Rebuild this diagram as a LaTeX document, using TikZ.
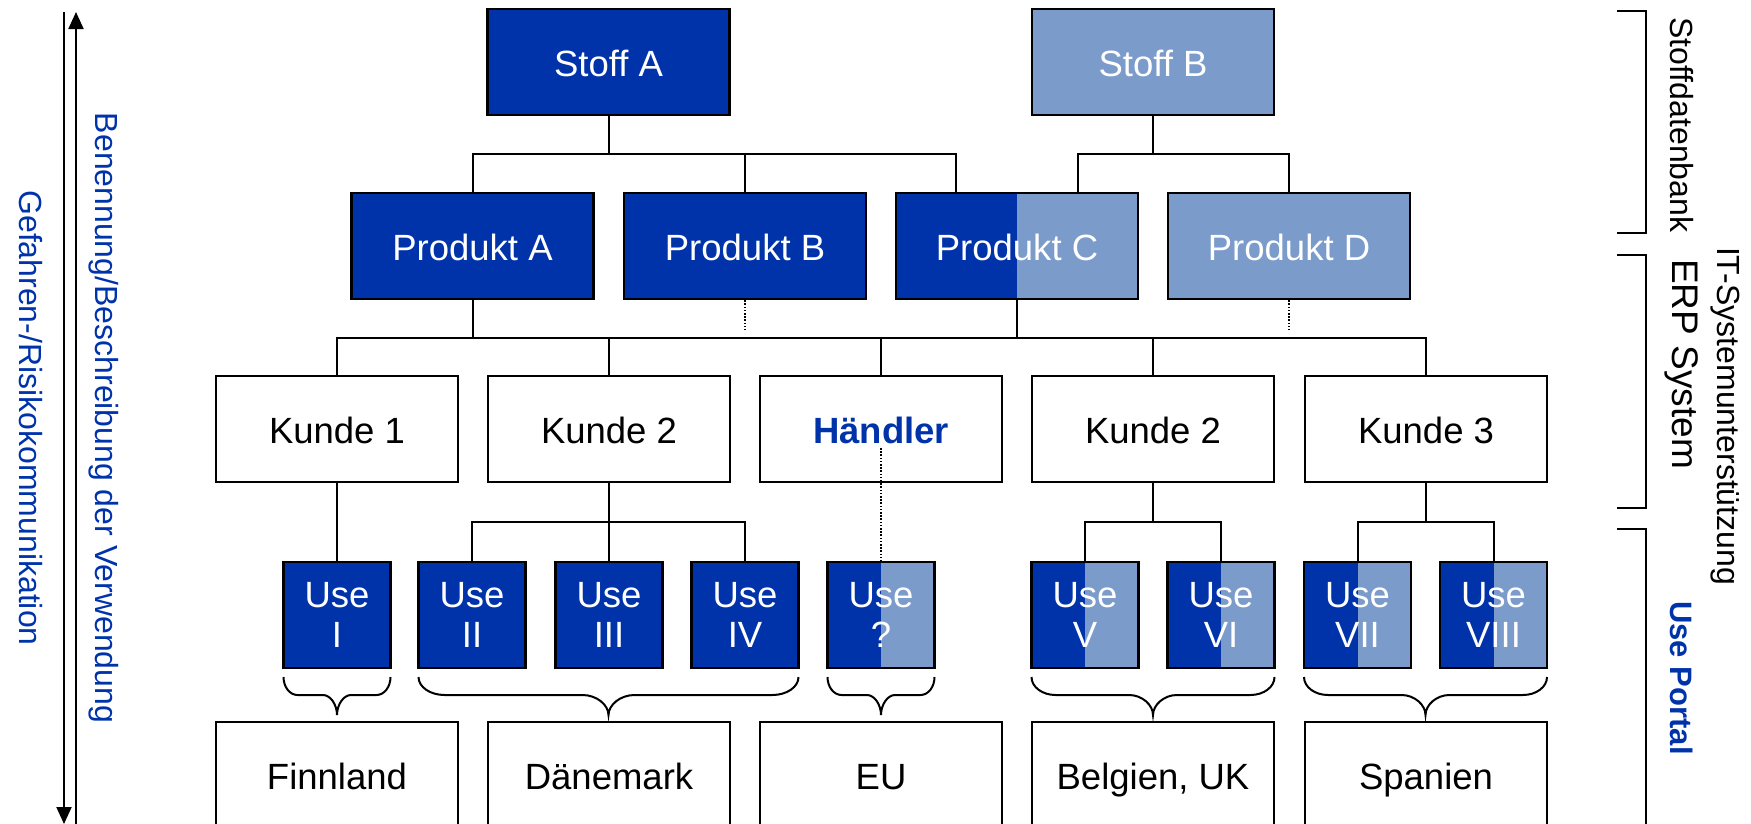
\documentclass[tikz,border=0pt]{standalone}
\usepackage{fontspec}
\setmainfont{Liberation Sans}
\usetikzlibrary{calc,arrows.meta}
\definecolor{dkb}{RGB}{0,51,170}
\definecolor{ltb}{RGB}{123,155,203}
\tikzset{
 bx/.style={draw=black, line width=2.3bp, minimum width=242bp, minimum height=106bp, inner sep=0pt, font=\fontsize{36.5bp}{40bp}\selectfont},
 one/.style={text height=30bp, text depth=2bp},
 dkbox/.style={bx, fill=dkb, text=white},
 ltbox/.style={bx, fill=ltb, text=white},
 halfbox/.style={bx, text=white, path picture={
   \fill[dkb] (path picture bounding box.south west) rectangle (path picture bounding box.north);
   \fill[ltb] (path picture bounding box.north) rectangle (path picture bounding box.south east);}},
 wbox/.style={bx, fill=white, text=black, one},
 ubox/.style={minimum width=107bp, align=center},
 ln/.style={line width=2bp},
 dln/.style={line width=1.6bp, dash pattern=on 1.6bp off 1.6bp},
 brc/.style={line width=2bp},
 side/.style={rotate=-90, inner sep=0pt, font=\fontsize{32bp}{36bp}\selectfont},
 arr/.style={ln, -{Triangle[length=17bp,width=15bp]}},
}
\newcommand\mybrace[3]{%
 \draw[brc] (#1,677) .. controls (#1,687) and ({#1+0.45*#3},695) .. ({#1+#3},695)
   -- ({(#1+#2)/2-#3},695) .. controls ({(#1+#2)/2-0.45*#3},695) and ({(#1+#2)/2},705) .. ({(#1+#2)/2},715)
   .. controls ({(#1+#2)/2},705) and ({(#1+#2)/2+0.45*#3},695) .. ({(#1+#2)/2+#3},695)
   -- ({#2-#3},695) .. controls ({#2-0.45*#3},695) and (#2,687) .. (#2,677);}
\begin{document}
\begin{tikzpicture}[x=1bp,y=-1bp]
\useasboundingbox (0,0) rectangle (1751,824);
% level 1
\node[dkbox,one] (sa) at (608.5,62) {Stoff A};
\node[ltbox,one] (sb) at (1153,62) {Stoff B};
% level 2
\node[dkbox,one] (pa) at (472.5,246) {Produkt A};
\node[dkbox,one] (pb) at (745,246) {Produkt B};
\node[halfbox,one] (pc) at (1017,246) {Produkt C};
\node[ltbox,one] (pd) at (1289,246) {Produkt D};
% level 3
\node[wbox] (k1) at (337,429) {Kunde 1};
\node[wbox] (k2) at (609,429) {Kunde 2};
\node[wbox, text=dkb, font=\fontsize{36.5bp}{40bp}\selectfont\bfseries] (h) at (881,429) {Händler};
\node[wbox] (k4) at (1153,429) {Kunde 2};
\node[wbox] (k5) at (1426,429) {Kunde 3};
% level 4
\node[dkbox,ubox] (u1) at (337,615) {Use\\I};
\node[dkbox,ubox] (u2) at (472,615) {Use\\II};
\node[dkbox,ubox] (u3) at (609,615) {Use\\III};
\node[dkbox,ubox] (u4) at (745,615) {Use\\IV};
\node[halfbox,ubox] (u5) at (881,615) {Use\\?};
\node[halfbox,ubox] (u6) at (1085,615) {Use\\V};
\node[halfbox,ubox] (u7) at (1221,615) {Use\\VI};
\node[halfbox,ubox] (u8) at (1357.5,615) {Use\\VII};
\node[halfbox,ubox] (u9) at (1493.5,615) {Use\\VIII};
% level 5
\node[wbox] (c1) at (337,775) {Finnland};
\node[wbox] (c2) at (609,775) {Dänemark};
\node[wbox] (c3) at (881,775) {EU};
\node[wbox] (c4) at (1153,775) {Belgien, UK};
\node[wbox] (c5) at (1426,775) {Spanien};
% buses
\coordinate (b1) at (0,154);
\coordinate (b2) at (0,338);
\coordinate (b3) at (0,522);
\coordinate (pcA) at ($(pc.north west)!0.25!(pc.north east)$);
\coordinate (pcB) at ($(pc.north west)!0.75!(pc.north east)$);
\draw[ln] (sa.south) -- (sa.south |- b1) -| (pa.north);
\draw[ln] (sa.south) -- (sa.south |- b1) -| (pb.north);
\draw[ln] (sa.south) -- (sa.south |- b1) -| (pcA);
\draw[ln] (sb.south) -- (sb.south |- b1) -| (pcB);
\draw[ln] (sb.south) -- (sb.south |- b1) -| (pd.north);
\draw[ln] (pa.south) -- (pa.south |- b2);
\draw[ln] (pc.south) -- (pc.south |- b2);
\draw[ln] (k1.north) -- (k1.north |- b2) -- (k5.north |- b2) -- (k5.north);
\foreach \n in {k2,h,k4} \draw[ln] (\n.north) -- (\n.north |- b2);
\draw[dln] (pb.south) -- ++(0,30);
\draw[dln] (pd.south) -- ++(0,30);
\draw[ln] (k1.south) -- (u1.north);
\draw[ln] (k2.south) -- (k2.south |- b3);
\draw[ln] (u2.north) |- (u4.north |- b3) -- (u4.north);
\draw[ln] (u3.north) -- (u3.north |- b3);
\draw[ln] (k4.south) -- (k4.south |- b3);
\draw[ln] (u6.north) |- (u7.north |- b3) -- (u7.north);
\draw[ln] (k5.south) -- (k5.south |- b3);
\draw[ln] (u8.north) |- (u9.north |- b3) -- (u9.north);
\draw[dln] ($(h.center)+(0,19)$) -- (u5.north);
% braces
\mybrace{283.5}{390.5}{14}
\mybrace{418.5}{798.5}{26}
\mybrace{827.5}{934.5}{14}
\mybrace{1031.5}{1274.5}{24}
\mybrace{1304}{1547}{24}
% right brackets
\draw[ln] (1617,11) -- (1646,11) -- (1646,233) -- (1617,233);
\draw[ln] (1617,255) -- (1646,255) -- (1646,508) -- (1617,508);
\draw[ln] (1617,529) -- (1646,529) -- (1646,840);
\node[side] (t1) at (1682,125) {Stoffdatenbank};
\node[side, font=\fontsize{37bp}{40bp}\selectfont] (t2) at (1682,364) {ERP System};
\node[side] (t3) at (1725,416) {IT-Systemunterstützung};
\node[side, text=dkb, font=\fontsize{31bp}{36bp}\selectfont\bfseries] (t4) at (1682,678) {Use Portal};
% left arrows
\coordinate (aTop) at (64,12);
\coordinate (aBot) at (64,824);
\coordinate (bBot) at (76,824);
\coordinate (bTop) at (76,12);
\draw[arr] (aTop) -- (aBot);
\draw[arr] (bBot) -- (bTop);
\node[side, text=dkb] (l1) at (104,418) {Benennung/Beschreibung der Verwendung};
\node[side, text=dkb] (l2) at (31,418) {Gefahren-/Risikokommunikation};
\end{tikzpicture}
\end{document}
